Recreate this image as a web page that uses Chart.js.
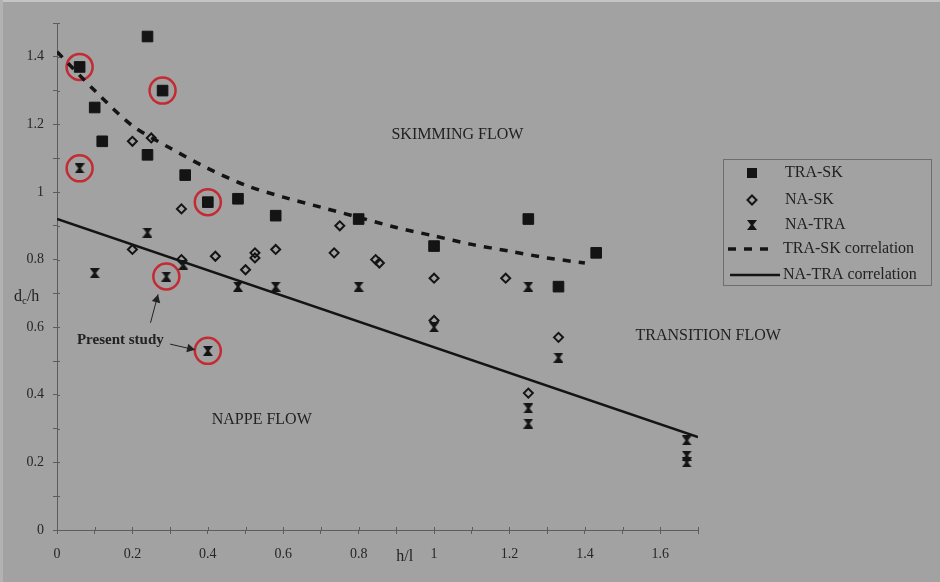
<!DOCTYPE html>
<html lang="en">
<head>
<meta charset="UTF-8" />
<title>Flow regimes</title>
<script src="https://cdn.jsdelivr.net/npm/chart.js"></script>
<style>
  html, body { margin: 0; padding: 0; background: #a2a2a2; }
  #wrap { width: 940px; height: 582px; }
</style>
</head>
<body>
<div id="wrap"><canvas id="myChart" width="940" height="582"></canvas></div>
<script>
// values (x = h/l, y = dc/h)
const traSkX = [0.06, 0.24, 0.28, 0.10, 0.12, 0.24, 0.34, 0.40, 0.48, 0.58, 0.80, 1.00, 1.25, 1.43, 1.33];
const traSkY = [1.37, 1.46, 1.30, 1.25, 1.15, 1.11, 1.05, 0.97, 0.98, 0.93, 0.92, 0.84, 0.92, 0.82, 0.72];

const naSkX = [0.20, 0.25, 0.33, 0.20, 0.33, 0.42, 0.50, 0.525, 0.525, 0.58, 0.75, 0.735, 0.845, 0.855, 1.00, 1.19, 1.00, 1.33, 1.25];
const naSkY = [1.15, 1.16, 0.95, 0.83, 0.80, 0.81, 0.77, 0.82, 0.805, 0.83, 0.90, 0.82, 0.80, 0.79, 0.745, 0.745, 0.62, 0.57, 0.405];

const naTraX = [0.06, 0.24, 0.10, 0.29, 0.335, 0.48, 0.58, 0.40, 0.80, 1.25, 1.00, 1.33, 1.25, 1.25, 1.67, 1.67, 1.67];
const naTraY = [1.07, 0.88, 0.76, 0.75, 0.785, 0.72, 0.72, 0.53, 0.72, 0.72, 0.60, 0.51, 0.36, 0.315, 0.265, 0.22, 0.20];

// correlation curves
const traSkCorrX = [0, 0.1, 0.2, 0.3, 0.4, 0.5, 0.6, 0.7, 0.8, 0.9, 1.0, 1.1, 1.2, 1.3, 1.4];
const traSkCorrY = [1.415, 1.30, 1.196, 1.13, 1.07, 1.02, 0.985, 0.955, 0.925, 0.895, 0.87, 0.845, 0.825, 0.805, 0.79];
const naTraCorrX = [0, 1.7];
const naTraCorrY = [0.92, 0.275];

// circled points of the present study
const presentX = [0.06, 0.28, 0.06, 0.40, 0.29, 0.40];
const presentY = [1.37, 1.30, 1.07, 0.97, 0.75, 0.53];

const legendLabels = ["TRA-SK", "NA-SK", "NA-TRA", "TRA-SK correlation", "NA-TRA correlation"];

function pts(xs, ys) {
  return xs.map((x, i) => ({ x: x, y: ys[i] }));
}

const ink = "#141414";
const axisCol = "#5c5c5c";
const serif = '"Liberation Serif", "DejaVu Serif", serif';

// hourglass marker
const hg = document.createElement("canvas");
hg.width = 10;
hg.height = 10;
const g = hg.getContext("2d");
g.fillStyle = ink;
g.beginPath();
g.moveTo(0, 0);
g.lineTo(10, 0);
g.lineTo(6.2, 5);
g.lineTo(10, 10);
g.lineTo(0, 10);
g.lineTo(3.8, 5);
g.closePath();
g.fill();

function tickLabel(value) {
  const v = Math.round(value * 10);
  return v % 2 === 0 ? String(v / 10) : "";
}

function arrow(ctx, x1, y1, x2, y2) {
  ctx.beginPath();
  ctx.moveTo(x1, y1);
  ctx.lineTo(x2, y2);
  ctx.stroke();
  const a = Math.atan2(y2 - y1, x2 - x1);
  ctx.beginPath();
  ctx.moveTo(x2, y2);
  ctx.lineTo(x2 - 9 * Math.cos(a - 0.5), y2 - 9 * Math.sin(a - 0.5));
  ctx.lineTo(x2 - 9 * Math.cos(a + 0.5), y2 - 9 * Math.sin(a + 0.5));
  ctx.closePath();
  ctx.fill();
}

const extras = {
  id: "extras",
  beforeDraw(chart) {
    const c = chart.ctx;
    c.save();
    c.fillStyle = "#a2a2a2";
    c.fillRect(0, 0, chart.width, chart.height);
    // light scan edges
    c.fillStyle = "#c4c4c4";
    c.fillRect(0, 0, chart.width, 2);
    c.fillStyle = "#b2b2b2";
    c.fillRect(0, 0, 3, chart.height);
    c.restore();
  },
  afterDraw(chart) {
    const c = chart.ctx;
    const xs = chart.scales.x;
    const ys = chart.scales.y;
    const area = chart.chartArea;
    const px = (v) => xs.getPixelForValue(v);
    const py = (v) => ys.getPixelForValue(v);
    c.save();

    // ticks cross the axis lines
    c.strokeStyle = axisCol;
    c.lineWidth = 1;
    c.beginPath();
    xs.ticks.forEach((t) => {
      const x = Math.round(px(t.value)) + 0.5;
      c.moveTo(x, area.bottom);
      c.lineTo(x, area.bottom - 3);
    });
    ys.ticks.forEach((t) => {
      const y = Math.round(py(t.value)) + 0.5;
      c.moveTo(area.left, y);
      c.lineTo(area.left + 3, y);
    });
    c.stroke();

    c.fillStyle = "#222";
    c.strokeStyle = "#222";
    c.textBaseline = "middle";

    // region labels
    c.font = "16px " + serif;
    c.textAlign = "center";
    c.fillText("SKIMMING FLOW", px(1.062), py(1.17));
    c.fillText("NAPPE FLOW", px(0.543), py(0.326));
    c.fillText("TRANSITION FLOW", px(1.727), py(0.574));

    // present study note
    c.font = "bold 15px " + serif;
    c.fillText("Present study", px(0.168), py(0.561));
    c.lineWidth = 1;
    arrow(c, px(0.248), py(0.613), px(0.268), py(0.697));
    arrow(c, px(0.3), py(0.55), px(0.366), py(0.533));

    // axis titles
    c.font = "16px " + serif;
    c.textAlign = "left";
    const ty = py(0.69);
    c.fillText("d", 14, ty);
    const dw = c.measureText("d").width;
    c.font = "11px " + serif;
    c.fillText("c", 14 + dw, ty + 4);
    const cw = c.measureText("c").width;
    c.font = "16px " + serif;
    c.fillText("/h", 14 + dw + cw, ty);
    c.textAlign = "center";
    c.fillText("h/l", px(0.922), area.bottom + 27);

    // legend
    const lx = 723, ly = 159, lw = 208, lh = 126;
    c.strokeStyle = "#6e6e6e";
    c.lineWidth = 1;
    c.strokeRect(lx + 0.5, ly + 0.5, lw, lh);
    const rows = [173, 200, 225, 249, 275];
    c.font = "16px " + serif;
    c.textAlign = "left";
    c.fillStyle = "#222";
    legendLabels.forEach((t, i) => c.fillText(t, i < 3 ? 785 : 783, rows[i]));
    c.fillStyle = ink;
    c.strokeStyle = ink;
    c.fillRect(752 - 5, rows[0] - 5, 10, 10);
    c.lineWidth = 2;
    c.beginPath();
    c.moveTo(752, rows[1] - 4.5);
    c.lineTo(756.5, rows[1]);
    c.lineTo(752, rows[1] + 4.5);
    c.lineTo(747.5, rows[1]);
    c.closePath();
    c.stroke();
    c.drawImage(hg, 752 - 5, rows[2] - 5);
    c.lineWidth = 3.5;
    c.setLineDash([8, 8]);
    c.beginPath();
    c.moveTo(728, rows[3]);
    c.lineTo(776, rows[3]);
    c.stroke();
    c.setLineDash([]);
    c.lineWidth = 2.5;
    c.beginPath();
    c.moveTo(730, rows[4]);
    c.lineTo(780, rows[4]);
    c.stroke();
    c.restore();
  }
};

const ctx = document.getElementById("myChart");

const myChart = new Chart(ctx, {
  type: "scatter",
  data: {
    datasets: [
      {
        label: "TRA-SK correlation",
        data: pts(traSkCorrX, traSkCorrY),
        showLine: true,
        borderColor: ink,
        borderWidth: 3.5,
        borderDash: [8, 8],
        pointRadius: 0,
        tension: 0.3,
        fill: false
      },
      {
        label: "NA-TRA correlation",
        data: pts(naTraCorrX, naTraCorrY),
        showLine: true,
        borderColor: ink,
        borderWidth: 2.5,
        pointRadius: 0,
        fill: false
      },
      {
        label: "TRA-SK",
        data: pts(traSkX, traSkY),
        pointStyle: "rect",
        pointRadius: 7.5,
        backgroundColor: ink,
        borderColor: ink,
        borderWidth: 1
      },
      {
        label: "NA-SK",
        data: pts(naSkX, naSkY),
        pointStyle: "rectRot",
        pointRadius: 4.5,
        backgroundColor: "rgba(0,0,0,0)",
        borderColor: ink,
        borderWidth: 2
      },
      {
        label: "NA-TRA",
        data: pts(naTraX, naTraY),
        pointStyle: hg,
        pointRadius: 5
      },
      {
        label: "Present study",
        data: pts(presentX, presentY),
        pointStyle: "circle",
        pointRadius: 13,
        backgroundColor: "rgba(0,0,0,0)",
        borderColor: "#c42a32",
        borderWidth: 2.5
      }
    ]
  },
  options: {
    responsive: false,
    animation: false,
    events: [],
    layout: { padding: { top: 23, right: 242, left: 0, bottom: 0 } },
    plugins: { legend: { display: false }, tooltip: { enabled: false } },
    scales: {
      x: {
        type: "linear",
        min: 0,
        max: 1.7,
        afterFit(s) { s.height = 52; },
        border: { color: axisCol, width: 1 },
        grid: { drawOnChartArea: false, tickLength: 4, color: axisCol },
        ticks: {
          stepSize: 0.1,
          autoSkip: false,
          maxRotation: 0,
          padding: 12,
          color: "#262626",
          font: { family: serif, size: 14 },
          callback: tickLabel
        }
      },
      y: {
        min: 0,
        max: 1.5,
        afterFit(s) { s.width = 57; },
        border: { color: axisCol, width: 1 },
        grid: { drawOnChartArea: false, tickLength: 4, color: axisCol },
        ticks: {
          stepSize: 0.1,
          autoSkip: false,
          padding: 9,
          color: "#262626",
          font: { family: serif, size: 14 },
          callback: tickLabel
        }
      }
    }
  },
  plugins: [extras]
});
</script>
</body>
</html>
